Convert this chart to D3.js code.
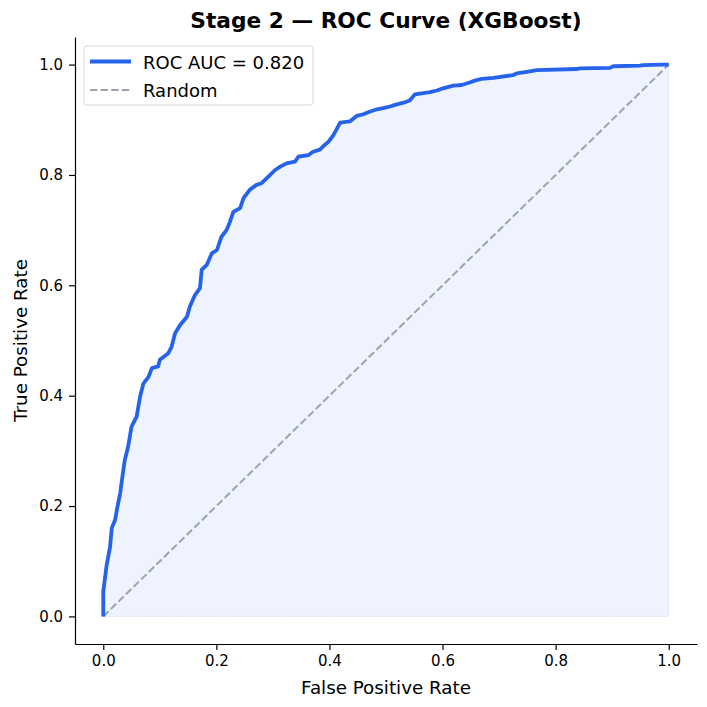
<!DOCTYPE html>
<html>
<head>
<meta charset="utf-8">
<script src="https://cdn.jsdelivr.net/npm/d3@7"></script>
<style>
  body { margin: 0; background: #fff; }
  text { font-family: "DejaVu Sans", sans-serif; fill: #000; }
</style>
</head>
<body>
<div id="chart"></div>
<script>
// ROC points
let fpr = [0, 0, 0.006, 0.012, 0.015, 0.021, 0.024, 0.030, 0.033, 0.038, 0.044, 0.050, 0.059, 0.065,
    0.071, 0.080, 0.086, 0.097, 0.100, 0.115, 0.121, 0.127, 0.136, 0.148, 0.153, 0.162, 0.171, 0.174,
    0.183, 0.192, 0.201, 0.209, 0.218, 0.224, 0.230, 0.242, 0.248, 0.259, 0.271, 0.280, 0.292, 0.304,
    0.313, 0.324, 0.339, 0.345, 0.363, 0.371, 0.383, 0.389, 0.398, 0.407, 0.419, 0.436, 0.448, 0.460,
    0.472, 0.484, 0.495, 0.507, 0.516, 0.531, 0.542, 0.551, 0.563, 0.578, 0.590, 0.601, 0.619, 0.634,
    0.649, 0.657, 0.669, 0.690, 0.725, 0.731, 0.749, 0.767, 0.837, 0.843, 0.896, 0.902, 0.949, 0.955,
    0.988, 1.0];
let tpr = [0, 0.045, 0.093, 0.126, 0.160, 0.175, 0.193, 0.224, 0.247, 0.283, 0.308, 0.344, 0.362, 0.398,
    0.422, 0.434, 0.450, 0.453, 0.465, 0.477, 0.489, 0.513, 0.528, 0.543, 0.561, 0.582, 0.595, 0.628,
    0.637, 0.658, 0.664, 0.688, 0.700, 0.715, 0.733, 0.740, 0.758, 0.773, 0.782, 0.785, 0.797, 0.809,
    0.815, 0.821, 0.824, 0.833, 0.836, 0.842, 0.846, 0.852, 0.860, 0.872, 0.895, 0.897, 0.907, 0.910,
    0.915, 0.919, 0.921, 0.924, 0.927, 0.931, 0.935, 0.946, 0.948, 0.950, 0.953, 0.957, 0.962, 0.963,
    0.968, 0.971, 0.974, 0.976, 0.981, 0.984, 0.987, 0.990, 0.992, 0.993, 0.994, 0.997, 0.998, 0.999,
    1.0, 1.0];
let randomLine = [0, 1];
let ticks = [0, 0.2, 0.4, 0.6, 0.8, 1.0];
let legendLabels = ["ROC AUC = 0.820", "Random"];

let W = 707, H = 707;
let margin = {top: 37, right: 10, bottom: 63, left: 75};
let blue = "#2563eb", grey = "#9ca3af";

let svg = d3.select("#chart")
    .append("svg")
        .attr("width", W)
        .attr("height", H);

let x = d3.scaleLinear()
    .domain([-0.05, 1.05])
    .range([margin.left, W - margin.right]);
let y = d3.scaleLinear()
    .domain([-0.05, 1.05])
    .range([H - margin.bottom, margin.top]);

let pts = fpr.map((f, i) => [f, tpr[i]]);

// shaded area under the curve
svg.append("path")
    .datum(pts)
    .attr("d", d3.area().x(d => x(d[0])).y0(y(0)).y1(d => y(d[1])))
    .attr("fill", blue)
    .attr("fill-opacity", 0.08)
    .attr("stroke", blue)
    .attr("stroke-opacity", 0.08);

// random classifier
svg.append("path")
    .datum(randomLine)
    .attr("d", d3.line().x(d => x(d)).y(d => y(d)))
    .attr("fill", "none")
    .attr("stroke", grey)
    .attr("stroke-width", 2)
    .attr("stroke-dasharray", "7.4,3.2");

// ROC curve
svg.append("path")
    .datum(pts)
    .attr("d", d3.line().x(d => x(d[0])).y(d => y(d[1])))
    .attr("fill", "none")
    .attr("stroke", blue)
    .attr("stroke-width", 3.8)
    .attr("stroke-linejoin", "round");

// axes
let xAxis = svg.append("g")
    .attr("transform", "translate(0," + (H - margin.bottom) + ")")
    .call(d3.axisBottom(x).tickValues(ticks).tickFormat(d3.format(".1f"))
        .tickSizeInner(6).tickSizeOuter(0).tickPadding(5));
let yAxis = svg.append("g")
    .attr("transform", "translate(" + margin.left + ",0)")
    .call(d3.axisLeft(y).tickValues(ticks).tickFormat(d3.format(".1f"))
        .tickSizeInner(6).tickSizeOuter(0).tickPadding(6));
svg.selectAll(".tick text").style("font-size", "15px").style("font-family", "DejaVu Sans");
svg.selectAll(".domain, .tick line").attr("stroke", "#000").attr("stroke-width", 1.2);

// labels
svg.append("text")
    .attr("x", (margin.left + W - margin.right) / 2)
    .attr("y", 694)
    .attr("text-anchor", "middle")
    .style("font-size", "18.3px")
    .text("False Positive Rate");

svg.append("text")
    .attr("transform", "translate(27," + ((margin.top + H - margin.bottom) / 2) + ") rotate(-90)")
    .attr("text-anchor", "middle")
    .style("font-size", "18.3px")
    .text("True Positive Rate");

svg.append("text")
    .attr("x", (margin.left + W - margin.right) / 2)
    .attr("y", 28)
    .attr("text-anchor", "middle")
    .style("font-size", "21.7px")
    .style("font-weight", "bold")
    .text("Stage 2 \u2014 ROC Curve (XGBoost)");

// legend
let legend = svg.append("g").attr("transform", "translate(84,46)");
legend.append("rect")
    .attr("width", 229).attr("height", 59)
    .attr("rx", 3)
    .attr("fill", "#fff").attr("fill-opacity", 0.8)
    .attr("stroke", "#d6d6d6").attr("stroke-width", 1);

let items = legend.selectAll("g.item")
    .data(legendLabels)
    .enter()
    .append("g")
        .attr("class", "item")
        .attr("transform", (d, i) => "translate(0," + (15.5 + i * 28.5) + ")");
items.append("line")
    .attr("x1", 6).attr("x2", 47)
    .attr("stroke", (d, i) => i == 0 ? blue : grey)
    .attr("stroke-width", (d, i) => i == 0 ? 3.8 : 2)
    .attr("stroke-dasharray", (d, i) => i == 0 ? null : "7.4,3.2");
items.append("text")
    .attr("x", 59)
    .attr("y", 7)
    .style("font-size", "18px")
    .text(d => d);
</script>
</body>
</html>
